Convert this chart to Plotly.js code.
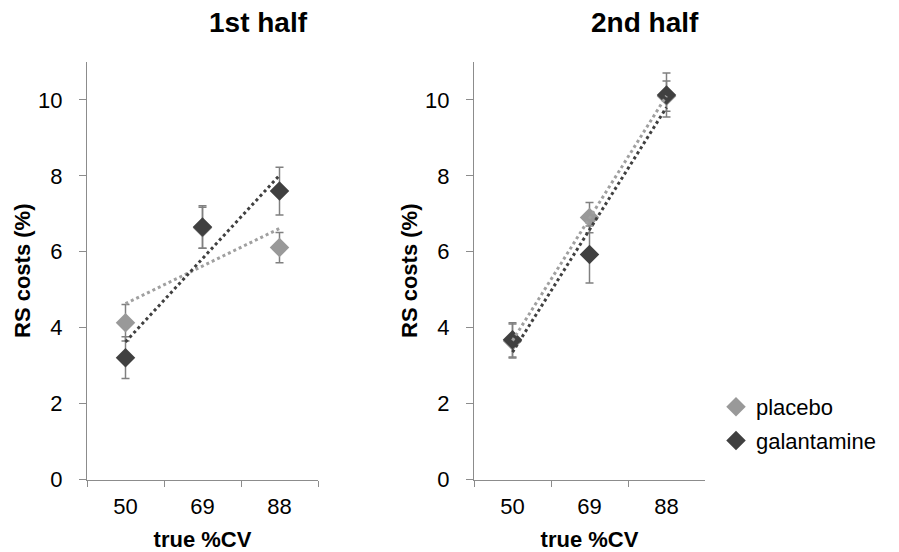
<!DOCTYPE html>
<html>
<head>
<meta charset="utf-8">
<script src="https://cdn.plot.ly/plotly-3.0.1.min.js"></script>
<style>html,body{margin:0;padding:0;background:#fff;}</style>
</head>
<body>
<div id="chart" style="width:899px;height:552px;"></div>
<script>
// ---- data ----
const categories = ['50', '69', '88'];
const placeboFirst = [4.13, 6.63, 6.11];
const placeboFirstErr = [0.48, 0.54, 0.40];
const galantFirst = [3.21, 6.65, 7.60];
const galantFirstErr = [0.55, 0.56, 0.63];
const placeboSecond = [3.65, 6.90, 10.10];
const placeboSecondErr = [0.45, 0.40, 0.40];
const galantSecond = [3.68, 5.93, 10.13];
const galantSecondErr = [0.45, 0.75, 0.58];
const seriesNames = ['placebo', 'galantamine'];
const panelTitles = ['1st half', '2nd half'];
const yTicks = [0, 2, 4, 6, 8, 10];

// ---- styles ----
const FONT = 'Liberation Sans, Arial, sans-serif';
const cPlacebo = '#999999';
const cGalant = '#404040';
const cAxis = '#8c8c8c';

// linear trendline over category index (1..n), evaluated at first and last category
function trend(y) {
  const n = y.length;
  const xs = y.map((_, i) => i + 1);
  const mx = xs.reduce((a, b) => a + b, 0) / n;
  const my = y.reduce((a, b) => a + b, 0) / n;
  let sxy = 0, sxx = 0;
  for (let i = 0; i < n; i++) { sxy += (xs[i] - mx) * (y[i] - my); sxx += (xs[i] - mx) ** 2; }
  const b = sxy / sxx, a = my - b * mx;
  return [a + b * 1, a + b * n];
}

function markers(y, err, name, color, xa, ya, showLegend) {
  return {
    type: 'scatter', mode: 'markers', x: categories, y: y, name: name,
    xaxis: xa, yaxis: ya, showlegend: showLegend, legendgroup: name,
    marker: {symbol: 'diamond', size: 15, color: color},
    error_y: {type: 'data', array: err, visible: true, color: '#808080', thickness: 1.5, width: 4},
    cliponaxis: false
  };
}
function trendLine(y, color, xa, ya) {
  return {
    type: 'scatter', mode: 'lines', x: [categories[0], categories[categories.length - 1]], y: trend(y),
    xaxis: xa, yaxis: ya, showlegend: false, hoverinfo: 'skip',
    line: {color: color, width: 3, dash: 'dot'}, cliponaxis: false
  };
}

const data = [
  markers(placeboFirst, placeboFirstErr, seriesNames[0], cPlacebo, 'x', 'y', true),
  markers(galantFirst, galantFirstErr, seriesNames[1], cGalant, 'x', 'y', true),
  trendLine(placeboFirst, '#a0a0a0', 'x', 'y'),
  trendLine(galantFirst, '#404040', 'x', 'y'),
  markers(placeboSecond, placeboSecondErr, seriesNames[0], cPlacebo, 'x2', 'y2', false),
  markers(galantSecond, galantSecondErr, seriesNames[1], cGalant, 'x2', 'y2', false),
  trendLine(placeboSecond, '#a0a0a0', 'x2', 'y2'),
  trendLine(galantSecond, '#404040', 'x2', 'y2')
];

function xAxis(domain, anchor) {
  return {
    domain: domain, anchor: anchor, type: 'category', range: [-0.5, 2.5],
    tickson: 'boundaries', ticks: 'outside', ticklen: 6, tickcolor: cAxis, tickwidth: 1,
    showline: true, linecolor: cAxis, linewidth: 1, showgrid: false, zeroline: false,
    tickfont: {family: FONT, size: 22, color: '#000'}, ticklabelstandoff: 7,
    title: {text: 'true %CV', font: {family: FONT, size: 22, color: '#000', weight: 'bold'}, standoff: 14},
    automargin: false, fixedrange: true
  };
}
function yAxis(domain, anchor) {
  return {
    domain: domain, anchor: anchor, range: [0, 11], tickvals: yTicks,
    ticks: 'outside', ticklen: 7, tickcolor: cAxis, tickwidth: 1,
    showline: true, linecolor: cAxis, linewidth: 1, showgrid: false, zeroline: false,
    tickfont: {family: FONT, size: 22, color: '#000'}, ticklabelstandoff: 12,
    title: {text: 'RS costs (%)', font: {family: FONT, size: 22, color: '#000', weight: 'bold'}, standoff: 1},
    automargin: false, fixedrange: true
  };
}

const W = 899, H = 552;
const yDom = [1 - 479.5 / H, 1 - 62 / H];
const layout = {
  width: W, height: H,
  margin: {l: 0, r: 0, t: 0, b: 0},
  paper_bgcolor: '#fff', plot_bgcolor: '#fff',
  font: {family: FONT, color: '#000'},
  xaxis: xAxis([87 / W, 318 / W], 'y'),
  yaxis: yAxis(yDom, 'x'),
  xaxis2: xAxis([474 / W, 705 / W], 'y2'),
  yaxis2: yAxis(yDom, 'x2'),
  showlegend: true,
  legend: {
    x: 716 / W, y: 1 - 386 / H, xanchor: 'left', yanchor: 'top',
    font: {family: FONT, size: 22, color: '#000'},
    bgcolor: 'rgba(0,0,0,0)', tracegroupgap: 2
  },
  annotations: [
    {text: '<b>' + panelTitles[0] + '</b>', xref: 'paper', yref: 'paper', x: 258 / W, y: 1 - 23 / H,
     xanchor: 'center', yanchor: 'middle', showarrow: false, font: {family: FONT, size: 28, color: '#000'}},
    {text: '<b>' + panelTitles[1] + '</b>', xref: 'paper', yref: 'paper', x: 645 / W, y: 1 - 23 / H,
     xanchor: 'center', yanchor: 'middle', showarrow: false, font: {family: FONT, size: 28, color: '#000'}}
  ]
};

Plotly.newPlot('chart', data, layout, {staticPlot: true, displayModeBar: false});
</script>
</body>
</html>
